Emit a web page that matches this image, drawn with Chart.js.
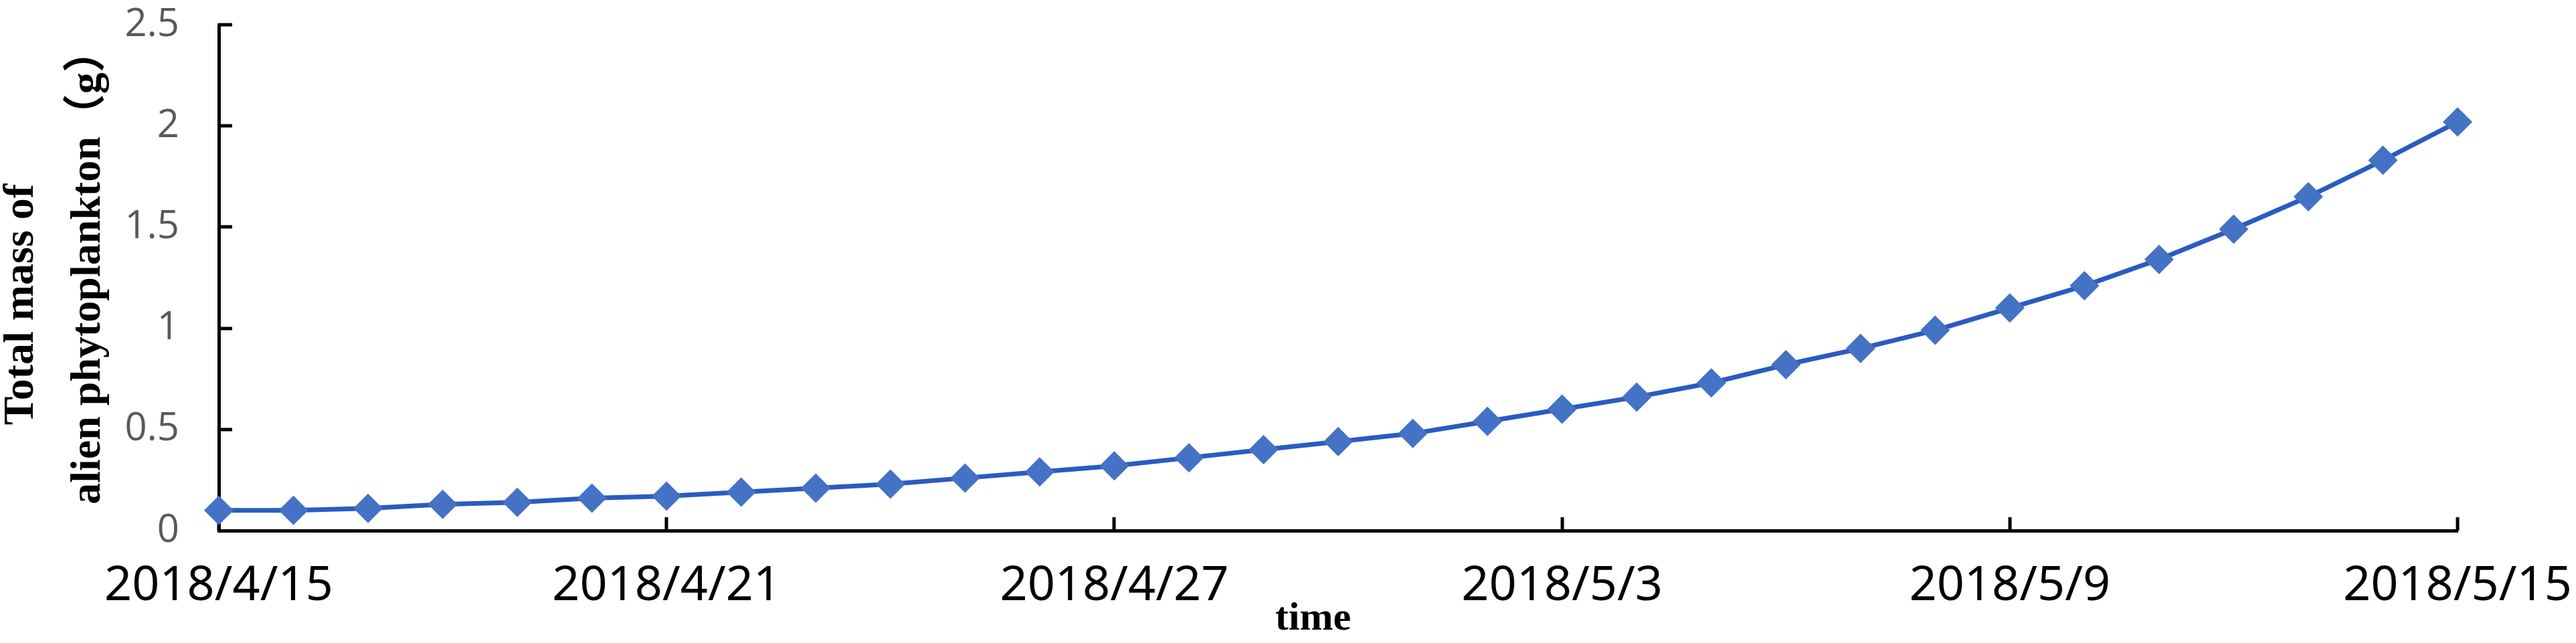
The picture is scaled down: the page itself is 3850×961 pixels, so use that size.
<!DOCTYPE html>
<html>
<head>
<meta charset="utf-8">
<script src="https://cdn.jsdelivr.net/npm/chart.js@4.4.1/dist/chart.umd.min.js"></script>
<style>
  html, body { margin: 0; padding: 0; background: #ffffff; }
  #wrap { width: 3850px; height: 961px; }
</style>
</head>
<body>
<div id="wrap"><canvas id="c" width="3850" height="961"></canvas></div>
<script>
const categories = [
  '2018/4/15','2018/4/16','2018/4/17','2018/4/18','2018/4/19','2018/4/20','2018/4/21',
  '2018/4/22','2018/4/23','2018/4/24','2018/4/25','2018/4/26','2018/4/27','2018/4/28',
  '2018/4/29','2018/4/30','2018/5/1','2018/5/2','2018/5/3','2018/5/4','2018/5/5',
  '2018/5/6','2018/5/7','2018/5/8','2018/5/9','2018/5/10','2018/5/11','2018/5/12',
  '2018/5/13','2018/5/14','2018/5/15'
];
const massValues = [
  0.10, 0.10, 0.11, 0.13, 0.14, 0.16, 0.17,
  0.19, 0.21, 0.23, 0.26, 0.29, 0.32, 0.36,
  0.40, 0.44, 0.48, 0.54, 0.60, 0.66, 0.73,
  0.82, 0.90, 0.99, 1.10, 1.21, 1.34, 1.49,
  1.65, 1.83, 2.02
];
const xTickLabels = ['2018/4/15','2018/4/21','2018/4/27','2018/5/3','2018/5/9','2018/5/15'];
const yTickValues = [0, 0.5, 1, 1.5, 2, 2.5];
const NB = '\u00A0';
const yTitleLines = ['Total mass of' + NB.repeat(5), NB.repeat(2) + 'alien phytoplankton（g）'];
const xTitleText = 'time' + NB.repeat(5);

const inwardTicks = {
  id: 'inwardTicks',
  beforeDatasetsDraw(chart) {
    const ctx = chart.ctx;
    const xs = chart.scales.x, ys = chart.scales.y;
    const area = chart.chartArea;
    ctx.save();
    ctx.strokeStyle = '#000000';
    ctx.lineWidth = 5;
    ctx.beginPath();
    categories.forEach((c, i) => {
      if (xTickLabels.includes(c)) {
        const x = Math.round(xs.getPixelForValue(i));
        ctx.moveTo(x, area.bottom);
        ctx.lineTo(x, area.bottom - 20);
      }
    });
    yTickValues.forEach(v => {
      if (v === 0) return;
      const y = Math.round(ys.getPixelForValue(v));
      ctx.moveTo(area.left, y);
      ctx.lineTo(area.left + 20, y);
    });
    ctx.stroke();
    ctx.restore();
  }
};

new Chart(document.getElementById('c'), {
  type: 'line',
  data: {
    labels: categories,
    datasets: [{
      data: massValues,
      borderColor: '#2A5BC0',
      borderWidth: 7,
      backgroundColor: '#4472C4',
      borderJoinStyle: 'round',
      pointStyle: 'rectRot',
      pointRadius: 22,
      pointBorderWidth: 0,
      pointBackgroundColor: '#4472C4',
      tension: 0,
      fill: false
    }]
  },
  options: {
    responsive: false,
    devicePixelRatio: 1,
    animation: false,
    layout: { padding: { left: 0, right: 177, top: 37, bottom: 0 } },
    plugins: { legend: { display: false }, tooltip: { enabled: false } },
    scales: {
      x: {
        type: 'category',
        offset: false,
        grid: { display: true, drawOnChartArea: false, drawTicks: false },
        border: { display: true, color: '#000000', width: 5 },
        ticks: {
          autoSkip: false,
          maxRotation: 0,
          minRotation: 0,
          padding: 40,
          color: '#000000',
          font: { family: '"Noto Sans", sans-serif', size: 72 },
          callback: function (val, idx) {
            const lab = categories[idx];
            return xTickLabels.includes(lab) ? lab : '';
          }
        },
        title: {
          display: true,
          text: xTitleText,
          color: '#000000',
          font: { family: '"Liberation Serif", serif', size: 60, weight: 'bold', lineHeight: 1.2 },
          padding: { top: 0, bottom: 0 }
        },
        afterFit(scale) { scale.height = 168; scale.paddingLeft = 0; scale.paddingRight = 0; }
      },
      y: {
        min: 0,
        max: 2.5,
        grid: { display: true, drawOnChartArea: false, drawTicks: false },
        border: { display: true, color: '#000000', width: 5 },
        ticks: {
          stepSize: 0.5,
          padding: 59,
          color: '#595959',
          font: { family: '"Open Sans", sans-serif', size: 58 },
          callback: v => String(v)
        },
        title: {
          display: true,
          text: yTitleLines,
          color: '#000000',
          font: { family: '"Liberation Serif", "Noto Sans CJK SC", serif', size: 64, weight: 'bold', lineHeight: 1.56 },
          padding: { top: -17, bottom: 0 }
        },
        afterFit(scale) { scale.width = 327; scale.paddingTop = 0; scale.paddingBottom = 0; }
      }
    }
  },
  plugins: [inwardTicks]
});
</script>
</body>
</html>
